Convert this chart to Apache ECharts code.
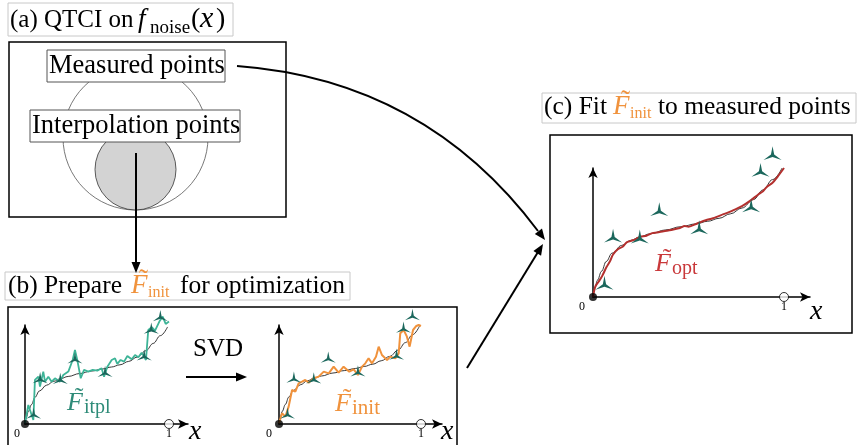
<!DOCTYPE html>
<html>
<head>
<meta charset="utf-8">
<script src="https://cdn.jsdelivr.net/npm/echarts@6/dist/echarts.min.js"></script>
<style>html,body{margin:0;padding:0;background:#fff}#c{width:860px;height:445px}</style>
</head>
<body>
<div id="c"></div>
<script>
// ---------- data ----------
const curveX = [0, 0.01, 0.023, 0.045, 0.069, 0.1, 0.15, 0.2, 0.243, 0.3, 0.38, 0.46, 0.54, 0.6, 0.66, 0.72, 0.78, 0.84, 0.89, 0.94, 0.99];
const curveY = [0, 0.07, 0.13, 0.2, 0.275, 0.34, 0.40, 0.44, 0.465, 0.49, 0.52, 0.545, 0.567, 0.587, 0.61, 0.645, 0.69, 0.755, 0.83, 0.91, 1.0];

const itplX = [0,0.023,0.058,0.069,0.093,0.104,0.127,0.139,0.162,0.185,0.208,0.243,0.266,0.301,0.331,0.347,0.363,0.387,0.410,0.440,0.470,0.502,0.532,0.549,0.572,0.602,0.625,0.641,0.664,0.688,0.711,0.741,0.764,0.787,0.810,0.840,0.856,0.880,0.903,0.933,0.956,0.977,1.0];
const itplY = [0.007,0.196,0.041,0.454,0.488,0.385,0.540,0.436,0.488,0.436,0.471,0.436,0.505,0.540,0.660,0.763,0.660,0.471,0.557,0.540,0.557,0.550,0.574,0.488,0.591,0.660,0.677,0.619,0.660,0.643,0.701,0.667,0.711,0.687,0.735,0.660,0.969,0.997,0.962,1.055,1.107,1.031,1.055];

const initX = [0,0.021,0.045,0.068,0.092,0.115,0.138,0.162,0.185,0.209,0.244,0.279,0.315,0.350,0.385,0.420,0.455,0.495,0.526,0.556,0.585,0.608,0.631,0.655,0.683,0.702,0.725,0.761,0.784,0.819,0.843,0.854,0.878,0.901,0.920,0.944,0.967,0.984,1.0];
const initY = [0.007,0.109,0.075,0.177,0.347,0.330,0.415,0.432,0.449,0.422,0.466,0.483,0.534,0.517,0.585,0.524,0.585,0.534,0.558,0.500,0.585,0.619,0.670,0.619,0.687,0.789,0.704,0.653,0.687,0.670,0.721,0.925,0.959,0.891,0.789,0.959,1.0,1.010,1.0];

const optX = [0,0.012,0.03,0.047,0.07,0.09,0.105,0.13,0.155,0.178,0.21,0.246,0.28,0.31,0.335,0.37,0.41,0.455,0.48,0.5,0.545,0.59,0.628,0.68,0.733,0.78,0.822,0.865,0.89,0.911,0.94,0.965,1.0];
const optY = [0,0.08,0.12,0.16,0.23,0.28,0.33,0.37,0.39,0.425,0.44,0.465,0.475,0.495,0.5,0.51,0.52,0.535,0.55,0.545,0.57,0.595,0.61,0.64,0.672,0.705,0.745,0.795,0.82,0.855,0.885,0.93,1.0];

const measuredX = [0.06, 0.105, 0.245, 0.347, 0.556, 0.828, 0.877, 0.94];
const measuredY = [0.09, 0.455, 0.448, 0.66, 0.52, 0.69, 0.965, 1.095];

const originPoint = [0, 0];
const unitPoint = [1, 0];
const tickLabels = ['0', '1'];

// ---------- helpers ----------
const SERIF = '"Liberation Serif", "Times New Roman", serif';
const zip = (xs, ys) => xs.map((x, i) => [x, ys[i]]);
const TRI = 'path://M50,0L57.8,45.5L93.3,75L50,59L6.7,75L42.2,45.5Z';

function T(x, base, text, size, extra) {
  return {
    type: 'text', x: x, y: base - 0.34 * size, z: 20,
    style: Object.assign({ text: text, fontFamily: SERIF, fontSize: size, fill: '#000',
      verticalAlign: 'middle', align: 'left' }, extra || {})
  };
}
function tildeF(x, base, size, color) {
  return [
    T(x, base, 'F', size, { fontStyle: 'italic', fill: color }),
    T(x + 0.3 * size, base - 0.2 * size, '\u02DC', size, { fill: color })
  ];
}
function rect(x, y, w, h, stroke, lw, fill) {
  return { type: 'rect', shape: { x: x, y: y, width: w, height: h },
    style: { stroke: stroke, lineWidth: lw, fill: fill || 'none' }, z: 5 };
}
function head(tx, ty, dx, dy, len, half) {
  const n = Math.hypot(dx, dy); dx /= n; dy /= n;
  const bx = tx - dx * len, by = ty - dy * len;
  return { type: 'polygon', z: 21,
    shape: { points: [[tx, ty], [bx - dy * half, by + dx * half], [bx + dy * half, by - dx * half]] },
    style: { fill: '#000' } };
}
function line(x1, y1, x2, y2, lw) {
  return { type: 'line', z: 21, shape: { x1: x1, y1: y1, x2: x2, y2: y2 }, style: { stroke: '#000', lineWidth: lw } };
}

function xAxisDef(idx, max, zeroShift) {
  return {
    gridIndex: idx, type: 'value', min: 0, max: max, interval: 1,
    axisLine: { onZero: false, symbol: ['none', 'arrow'], symbolSize: [7, 10], lineStyle: { color: '#000', width: 1.5 } },
    axisTick: { show: false }, splitLine: { show: false },
    axisLabel: {
      margin: 4, color: '#000', fontFamily: SERIF, fontSize: 12,
      formatter: v => (v === 0 ? '{z|' + tickLabels[0] + '}' : (Math.abs(v - 1) < 1e-9 ? tickLabels[1] : '')),
      rich: { z: { fontFamily: SERIF, fontSize: 12, color: '#000', padding: [0, zeroShift * 2, 0, 0] } }
    }
  };
}
function yAxisDef(idx, max) {
  return {
    gridIndex: idx, type: 'value', min: 0, max: max,
    axisLine: { show: true, onZero: false, symbol: ['none', 'arrow'], symbolSize: [7, 10], lineStyle: { color: '#000', width: 1.5 } },
    axisTick: { show: false }, splitLine: { show: false }, axisLabel: { show: false }
  };
}
function panelSeries(idx, lx, ly, color, width, smooth, mSize) {
  return [
    { type: 'line', xAxisIndex: idx, yAxisIndex: idx, data: zip(curveX, curveY), smooth: 0.4, smoothMonotone: 'x',
      showSymbol: false, clip: false, lineStyle: { color: '#222', width: 0.9 }, z: 3 },
    { type: 'line', xAxisIndex: idx, yAxisIndex: idx, data: zip(lx, ly), smooth: smooth,
      showSymbol: false, clip: false, lineStyle: { color: color, width: width }, z: 4 },
    { type: 'scatter', xAxisIndex: idx, yAxisIndex: idx, data: zip(measuredX, measuredY), clip: false,
      symbol: TRI, symbolKeepAspect: true, symbolSize: mSize, symbolOffset: [0, -mSize[1] / 6],
      itemStyle: { color: '#1b675c', opacity: 1 }, z: 6 },
    { type: 'scatter', xAxisIndex: idx, yAxisIndex: idx, data: [originPoint], clip: false,
      symbol: 'circle', symbolSize: 8, itemStyle: { color: '#000' }, z: 7 },
    { type: 'scatter', xAxisIndex: idx, yAxisIndex: idx, data: [unitPoint], clip: false,
      symbol: 'circle', symbolSize: 9, itemStyle: { color: '#fff', borderColor: '#000', borderWidth: 1 }, z: 7 }
  ];
}

// ---------- graphics ----------
const G = [];
// panel (a)
G.push(rect(8, 3, 225, 33, '#c8c8c8', 1, '#fff'));
G.push(T(10, 29, '(a) QTCI on', 25));
G.push(T(138, 29, 'f', 27, { fontStyle: 'italic' }));
G.push(T(150, 34, 'noise', 19));
G.push(T(191, 29, '(', 28));
G.push(T(200, 29, 'x', 30, { fontStyle: 'italic' }));
G.push(T(216, 29, ')', 28));
G.push(rect(9, 42, 277, 175, '#000', 1.5));
G.push({ type: 'circle', z: 6, shape: { cx: 135.5, cy: 137.5, r: 72.5 }, style: { fill: 'none', stroke: '#555', lineWidth: 0.8 } });
G.push({ type: 'circle', z: 7, shape: { cx: 135.5, cy: 169.5, r: 40.5 }, style: { fill: '#d3d3d3', stroke: '#333', lineWidth: 0.8 } });
G.push(Object.assign(rect(47, 50, 178, 32, '#555', 1, '#fff'), { z: 8 }));
G.push(T(49, 75, 'Measured points', 26.5));
G.push(Object.assign(rect(30, 110, 210, 32, '#555', 1, '#fff'), { z: 8 }));
G.push(T(32, 135, 'Interpolation points', 26.5));
// vertical arrow
G.push(line(136, 153, 136, 264, 2));
G.push(head(136, 273, 0, 1, 11, 4.5));

// panel (b)
G.push(rect(5, 272, 345, 28, '#c8c8c8', 1, '#fff'));
G.push(T(8, 295, '(b) Prepare', 25.5));
G.push(...tildeF(131, 295, 27, '#f0923c'));
G.push(T(148, 298, 'init', 16, { fill: '#f0923c' }));
G.push(T(180, 295, 'for optimization', 25.5));
G.push(rect(8, 307, 449, 142, '#000', 1.5));
G.push(T(193, 358, 'SVD', 25));
G.push(line(186, 377, 238, 377, 2));
G.push(head(247, 377, 1, 0, 11, 4.5));
G.push(...tildeF(67, 412, 26, '#2e8b78'));
G.push(T(84, 415, 'itpl', 20, { fill: '#2e8b78' }));
G.push(...tildeF(335, 413, 26, '#f0923c'));
G.push(T(352, 416, 'init', 21, { fill: '#f0923c' }));
G.push(T(189, 441, 'x', 28, { fontStyle: 'italic' }));
G.push(T(441, 441, 'x', 28, { fontStyle: 'italic' }));

// panel (c)
G.push(rect(542, 93, 314, 30, '#c8c8c8', 1, '#fff'));
G.push(T(544, 116, '(c) Fit', 25.5));
G.push(...tildeF(613, 116, 27, '#f0923c'));
G.push(T(630, 119, 'init', 16, { fill: '#f0923c' }));
G.push(T(658, 116, 'to measured points', 25.5));
G.push(rect(550, 135, 302, 198, '#000', 1.5));
G.push(...tildeF(655, 273, 26, '#c9383a'));
G.push(T(672, 276, 'opt', 20, { fill: '#c9383a' }));
G.push(T(810, 321, 'x', 28, { fontStyle: 'italic' }));

// curved arrow from Measured points to (c)
G.push({ type: 'bezierCurve', z: 21, shape: { x1: 237, y1: 66, cpx1: 425, cpy1: 80, x2: 538, y2: 231 },
  style: { stroke: '#000', lineWidth: 2, fill: 'none' } });
G.push(head(545, 240, 113, 151, 11, 4.5));
// arrow from (b) to (c)
G.push(line(467, 368, 538, 252, 2));
G.push(head(543, 244, 76, -124, 11, 4.5));

// ---------- chart ----------
const chart = echarts.init(document.getElementById('c'), null, { renderer: 'canvas' });
chart.setOption({
  backgroundColor: '#fff',
  animation: false,
  grid: [
    { left: 25, top: 325, width: 163, height: 99 },
    { left: 279, top: 325, width: 163, height: 99 },
    { left: 593, top: 168, width: 217, height: 129 }
  ],
  xAxis: [xAxisDef(0, 1.132, 8), xAxisDef(1, 1.148, 10), xAxisDef(2, 1.136, 11)],
  yAxis: [yAxisDef(0, 1.02), yAxisDef(1, 1.01), yAxisDef(2, 1.0)],
  series: [].concat(
    panelSeries(0, itplX, itplY, '#3db497', 1.8, false, [15, 13]),
    panelSeries(1, initX, initY, '#f0923c', 2, false, [15, 13]),
    panelSeries(2, optX, optY, '#b3302e', 2, 0.3, [18, 16])
  ),
  graphic: { elements: G }
});
</script>
</body>
</html>
